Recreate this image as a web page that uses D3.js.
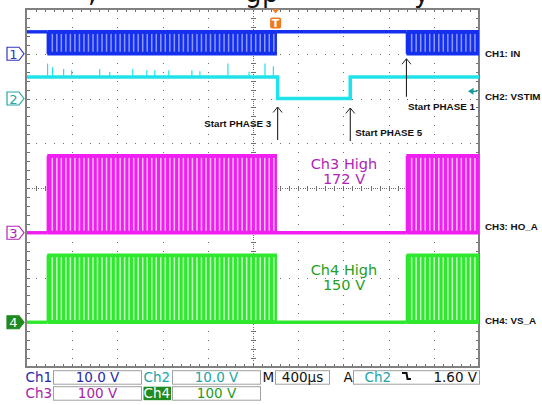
<!DOCTYPE html>
<html><head><meta charset="utf-8">
<script src="https://cdn.jsdelivr.net/npm/d3@7"></script>
<style>html,body{margin:0;padding:0;background:#fff;overflow:hidden}svg{display:block}</style>
</head><body>
<svg id="c" width="542" height="405"></svg>
<script>
// ================= DATA =================
const channelIds   = ["1", "2", "3", "4"];
const channelNames = ["CH1: IN", "CH2: VSTIM", "CH3: HO_A", "CH4: VS_A"];
const voltsPerDiv  = [10, 10, 100, 100];
const statusChannels = ["Ch1", "Ch2", "Ch3", "Ch4"];
const statusScales   = ["10.0 V", "10.0 V", "100 V", "100 V"];
const timebaseLabel  = "400µs";
const triggerSource  = "Ch2";
const triggerLevel   = "1.60 V";
const triggerLevelVolts = 1.6;

const timeDomain = [-2200, 1800];           // µs, trigger at 0
const timeGrid   = [-2200, -1800, -1400, -1000, -600, -200, 200, 600, 1000, 1400, 1800];
const divGrid    = [0, 1, 2, 3, 4, 5, 6, 7, 8];

// high levels (V)
const ch1High = 4.9;
const ch2High = 4.8;
const ch3High = 172;
const ch4High = 150;

// PWM bursts on CH1 / CH3 / CH4 (µs)
const pwmBursts = [[-2020, 12], [1158, 1800]];
const pwmNotches1 = [-1976, -1936, -1896, -1856, -1816, -1776, -1736, -1696, -1656, -1616,
  -1576, -1536, -1496, -1456, -1416, -1376, -1336, -1296, -1256, -1216,
  -1176, -1136, -1096, -1056, -1016, -976, -936, -896, -856, -816,
  -776, -736, -696, -656, -616, -576, -536, -496, -456, -416,
  -376, -336, -296, -256, -216, -176, -136, -96, -56, -16];
const pwmNotches2 = [1204, 1244, 1284, 1324, 1364, 1404, 1444, 1484, 1524, 1564,
  1604, 1644, 1684, 1724, 1764];

// CH2 (VSTIM) steps
const ch2Times  = [-2200, 18, 661, 1800];
const ch2Levels = [4.8, 0, 4.8, 4.8];
const ch2SpikeTimes = [-2018, -1974, -1876, -1805, -1557, -1468, -1264, -1140, -1069, -945, -741, -670, -422, -235, -94, -20];
const ch2SpikeVolts = [3.0, 2.2, 1.8, 1.5, 1.8, 1.1, 1.8, 1.5, 1.5, 1.5, 1.5, 1.3, 3.0, 1.2, 3.0, 2.4];

// annotations
const phaseLabels = ["Start PHASE 3", "Start PHASE 5", "Start PHASE 1"];
const phaseTimes  = [18, 661, 1158];
const highNotes   = [["Ch3 High", "172 V"], ["Ch4 High", "150 V"]];
const titleFragments = [",", "g", "p", "y"];

// ================= DRAW =================
const svg = d3.select("#c");
const X0 = 27, X1 = 479, Y0 = 9, Y1 = 367;
const x = d3.scaleLinear().domain(timeDomain).range([X0, X1]);
const yDiv = d3.scaleLinear().domain([0, 8]).range([Y0, Y1]);
const groundDivs = [1, 2, 5, 7];
const colors = ["#1430ee", "#20e2ea", "#f01ef0", "#2ee82e"];
const labelColors = ["#2828a8", "#22a4a8", "#a822a8", "#1f9a1f"];
const yV = (ch, v) => yDiv(groundDivs[ch] - v / voltsPerDiv[ch]);
const divW = (X1 - X0) / 10, divH = (Y1 - Y0) / 8;

// title fragments (cut off at top, as in the source image)
const titleX = [88, 245, 262, 414];
svg.selectAll("text.title").data(titleFragments).join("text")
  .attr("x", (d, i) => titleX[i]).attr("y", 1.5)
  .attr("font-family", "DejaVu Sans").attr("font-size", 26).attr("fill", "#111")
  .text(d => d);

// ---------- graticule ----------
const g = svg.append("g").attr("shape-rendering", "crispEdges");
const dotColor = "#6e6e6e";
function dot(xx, yy) {
  g.append("rect").attr("x", Math.round(xx)).attr("y", Math.round(yy)).attr("width", 1).attr("height", 1).attr("fill", dotColor);
}
timeGrid.forEach((t, i) => {
  if (i === 0 || i === timeGrid.length - 1) return;
  const xx = x(t);
  const center = (t === -200);
  const n = center ? 160 : 40;
  for (let m = 1; m < n; m++) dot(xx, Y0 + m * (Y1 - Y0) / n);
  if (center) {
    for (let m = 1; m < 40; m++) {
      const yy = Math.round(Y0 + m * divH / 5) + 0.5;
      g.append("line").attr("x1", Math.round(xx) - 2).attr("x2", Math.round(xx) + 3).attr("y1", yy).attr("y2", yy).attr("stroke", dotColor);
    }
  }
});
divGrid.forEach(d => {
  if (d === 0 || d === 8) return;
  const yy = yDiv(d);
  const center = d === 4;
  const n = center ? 200 : 50;
  for (let m = 1; m < n; m++) dot(X0 + m * (X1 - X0) / n, yy);
  if (center) {
    for (let m = 1; m < 50; m++) {
      const xx = Math.round(X0 + m * divW / 5) + 0.5;
      g.append("line").attr("x1", xx).attr("x2", xx).attr("y1", Math.round(yy) - 2).attr("y2", Math.round(yy) + 3).attr("stroke", dotColor);
    }
  }
});
// border ticks
for (let m = 1; m < 50; m++) {
  const xx = Math.round(X0 + m * divW / 5) + 0.5;
  g.append("line").attr("x1", xx).attr("x2", xx).attr("y1", Y0).attr("y2", Y0 + 3).attr("stroke", dotColor);
  g.append("line").attr("x1", xx).attr("x2", xx).attr("y1", Y1).attr("y2", Y1 - 3).attr("stroke", dotColor);
}
for (let m = 1; m < 40; m++) {
  const yy = Math.round(Y0 + m * divH / 5) + 0.5;
  g.append("line").attr("x1", X0).attr("x2", X0 + 3).attr("y1", yy).attr("y2", yy).attr("stroke", dotColor);
  g.append("line").attr("x1", X1).attr("x2", X1 - 3).attr("y1", yy).attr("y2", yy).attr("stroke", dotColor);
}
g.append("rect").attr("x", X0 - 1).attr("y", Y0).attr("width", X1 - X0 + 1).attr("height", Y1 - Y0)
  .attr("fill", "none").attr("stroke", "#808080").attr("stroke-width", 2);

// ---------- traces ----------
const tr = svg.append("g");
const line = d3.line();

function pwmChannel(ch, hi, idleHigh, gapOpacity) {
  const yHi = yV(ch, hi), yLo = yV(ch, 0);
  const idleY = idleHigh ? yHi : yLo;
  let prev = timeDomain[0];
  pwmBursts.forEach(([a, b]) => {
    tr.append("path").attr("d", line([[x(prev), idleY], [x(a), idleY]]))
      .attr("stroke", colors[ch]).attr("stroke-width", 3.4).attr("fill", "none");
    prev = b;
  });
  if (prev < timeDomain[1]) {
    tr.append("path").attr("d", line([[x(prev), idleY], [x(timeDomain[1]), idleY]]))
      .attr("stroke", colors[ch]).attr("stroke-width", 3.4).attr("fill", "none");
  }
  const notchSets = [pwmNotches1, pwmNotches2];
  pwmBursts.forEach(([a, b], bi) => {
    tr.append("rect").attr("x", x(a)).attr("y", yHi).attr("width", x(b) - x(a)).attr("height", yLo - yHi)
      .attr("fill", colors[ch]);
    tr.selectAll(null).data(notchSets[bi]).join("rect")
      .attr("x", d => x(d) - 0.75).attr("width", 1.5)
      .attr("y", yHi + 2).attr("height", yLo - yHi - 4)
      .attr("fill", "#fff").attr("opacity", gapOpacity);
    tr.append("path").attr("d", line([[x(a), yHi], [x(b), yHi]]))
      .attr("stroke", colors[ch]).attr("stroke-width", 3.5);
    tr.append("path").attr("d", line([[x(a), yLo], [x(b), yLo]]))
      .attr("stroke", colors[ch]).attr("stroke-width", 3.5);
    tr.append("path").attr("d", line([[x(a), yHi], [x(a), yLo]])).attr("stroke", colors[ch]).attr("stroke-width", 1.5);
  });
}
pwmChannel(0, ch1High, true, 0.5);
pwmChannel(2, ch3High, false, 0.7);
pwmChannel(3, ch4High, false, 0.7);

// CH2
const ch2Pts = ch2Times.map((t, i) => [x(t), yV(1, ch2Levels[i])]);
tr.append("path").attr("d", d3.line().curve(d3.curveStepAfter)(ch2Pts))
  .attr("fill", "none").attr("stroke", colors[1]).attr("stroke-width", 3.6);
tr.selectAll(null).data(ch2SpikeTimes).join("line")
  .attr("x1", d => x(d)).attr("x2", d => x(d))
  .attr("y1", yV(1, ch2High)).attr("y2", (d, i) => yV(1, ch2High + ch2SpikeVolts[i]))
  .attr("stroke", colors[1]).attr("stroke-width", 1.2);

// ---------- channel markers (left) ----------
const markerStroke = ["#3535c0", "#26a6a6", "#b026b0", "#1f8a1f"];
channelIds.forEach((id, ch) => {
  const cy = yDiv(groundDivs[ch]);
  const filled = ch === 3;
  svg.append("path")
    .attr("d", `M7,${cy - 6.5} H19 L24,${cy} L19,${cy + 6.5} H7 Z`)
    .attr("fill", filled ? markerStroke[ch] : "#fff")
    .attr("stroke", markerStroke[ch]).attr("stroke-width", 1.2);
  svg.append("text").attr("x", 13.5).attr("y", cy + 5)
    .attr("text-anchor", "middle").attr("font-family", "DejaVu Sans").attr("font-size", 13)
    .attr("fill", filled ? "#fff" : markerStroke[ch]).text(id);
});

// ---------- channel names (right) ----------
const nameBaseline = [57, 99.5, 229.5, 323.5];
channelNames.forEach((n, ch) => {
  svg.append("text").attr("x", 485).attr("y", nameBaseline[ch])
    .attr("font-family", "Liberation Sans, Arial").attr("font-weight", "bold").attr("font-size", 9.8)
    .attr("fill", "#111").text(n);
});

// trigger level arrow (CH2)
const ty = yV(1, triggerLevelVolts);
svg.append("path").attr("d", `M468,${ty} L473.5,${ty - 3.5} L473.5,${ty + 3.5} Z`).attr("fill", "#1a9a9a");
svg.append("line").attr("x1", 473).attr("x2", 477).attr("y1", ty).attr("y2", ty).attr("stroke", "#1a9a9a").attr("stroke-width", 1.5);

// trigger marker "T"
const tx = x(0);
svg.append("path").attr("d", `M${tx - 3.5},9 L${tx + 3.5},9 L${tx},13.5 Z`).attr("fill", "#f0781e");
svg.append("rect").attr("x", tx - 5.5).attr("y", 17.5).attr("width", 11).attr("height", 11).attr("rx", 2)
  .attr("fill", "#f0781e");
svg.append("text").attr("x", tx).attr("y", 27).attr("text-anchor", "middle")
  .attr("font-family", "DejaVu Sans").attr("font-weight", "bold").attr("font-size", 11).attr("fill", "#fff").text("T");

// ---------- phase annotations ----------
const arrowTip = [yV(1, 0) + 8.5, yV(1, 0) + 9.5, yV(0, 0) + 5];
const arrowLen = [33, 33, 38];
const textAnchor = ["end", "start", "start"];
const textDx = [-6.5, 5, 1.5];
const textBase = [127, 135.5, 110];
phaseLabels.forEach((lab, i) => {
  const ax = x(phaseTimes[i]);
  const tip = arrowTip[i];
  svg.append("line").attr("x1", ax).attr("x2", ax).attr("y1", tip).attr("y2", tip + arrowLen[i])
    .attr("stroke", "#222").attr("stroke-width", 1.1);
  svg.append("path").attr("d", `M${ax - 4.5},${tip + 5.5} L${ax},${tip} L${ax + 4.5},${tip + 5.5}`)
    .attr("fill", "none").attr("stroke", "#222").attr("stroke-width", 1);
  svg.append("text").attr("x", ax + textDx[i]).attr("y", textBase[i]).attr("text-anchor", textAnchor[i])
    .attr("font-family", "Liberation Sans, Arial").attr("font-weight", "bold").attr("font-size", 9.8)
    .attr("fill", "#111").text(lab);
});

// ---------- high-level notes ----------
const noteColors = ["#b024b4", "#26a026"];
const noteBase = [[168.5, 183.5], [275, 289.5]];
highNotes.forEach((pair, i) => {
  pair.forEach((s, j) => {
    svg.append("text").attr("x", 344).attr("y", noteBase[i][j]).attr("text-anchor", "middle")
      .attr("font-family", "DejaVu Sans").attr("font-size", 14.5).attr("fill", noteColors[i]).text(s);
  });
});

// ---------- status bar ----------
const sb = svg.append("g").attr("font-family", "DejaVu Sans").attr("font-size", 13.5);
const boxStroke = "#a0a0a0";
const rowTop = [370.7, 386.7], rowBase = [382.3, 398.3];
const labelX = [25.5, 143.5], boxX = [[53.5, 141.5], [172.5, 260.5]];
statusChannels.forEach((c, i) => {
  const row = i < 2 ? 0 : 1, col = i % 2;
  if (i === 3) {
    sb.append("rect").attr("x", 143.5).attr("y", rowTop[row]).attr("width", 27.5).attr("height", 13.5).attr("fill", "#1f8a1f");
  }
  sb.append("text").attr("x", labelX[col]).attr("y", rowBase[row])
    .attr("fill", i === 3 ? "#fff" : labelColors[i]).text(c);
  sb.append("rect").attr("x", boxX[col][0]).attr("y", rowTop[row])
    .attr("width", boxX[col][1] - boxX[col][0]).attr("height", 13.5)
    .attr("fill", "none").attr("stroke", boxStroke);
  sb.append("text").attr("x", (boxX[col][0] + boxX[col][1]) / 2).attr("y", rowBase[row])
    .attr("text-anchor", "middle").attr("fill", labelColors[i]).text(statusScales[i]);
});
sb.append("text").attr("x", 262.5).attr("y", rowBase[0]).attr("fill", "#111").text("M");
sb.append("rect").attr("x", 275.5).attr("y", rowTop[0]).attr("width", 54).attr("height", 13.5).attr("fill", "none").attr("stroke", boxStroke);
sb.append("text").attr("x", 302.5).attr("y", rowBase[0]).attr("text-anchor", "middle").attr("fill", "#111").text(timebaseLabel);
sb.append("text").attr("x", 343.5).attr("y", rowBase[0]).attr("fill", "#111").text("A");
sb.append("rect").attr("x", 353.5).attr("y", rowTop[0]).attr("width", 126).attr("height", 13.5).attr("fill", "none").attr("stroke", boxStroke);
sb.append("text").attr("x", 364.5).attr("y", rowBase[0]).attr("fill", labelColors[1]).text(triggerSource);
sb.append("path").attr("d", "M402,373 H406.5 L407.5,379 H411").attr("fill", "none").attr("stroke", "#111").attr("stroke-width", 2);
sb.append("text").attr("x", 477).attr("y", rowBase[0]).attr("text-anchor", "end").attr("fill", "#111").text(triggerLevel);
</script>
</body></html>
